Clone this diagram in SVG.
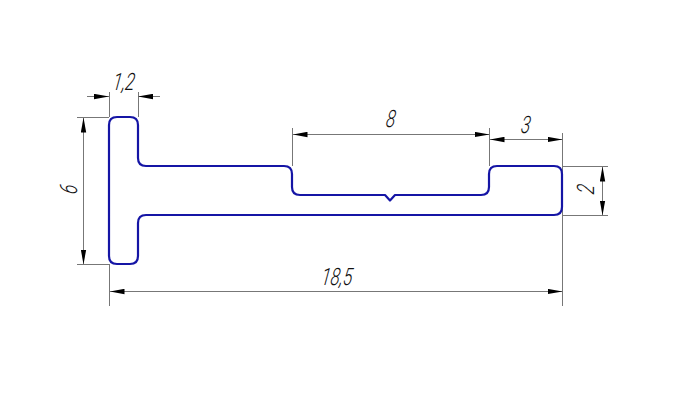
<svg xmlns="http://www.w3.org/2000/svg" width="681" height="403" viewBox="0 0 681 403">
<style>
.dim{fill:none;stroke:#777;stroke-width:1}
.ah{fill:#000;stroke:none}
.t{font-family:"Roboto","Liberation Sans",sans-serif;font-weight:300;font-style:italic;font-size:24px;fill:#111;text-anchor:middle}
</style>
<defs>
<marker id="arr" viewBox="0 0 15 6" refX="15" refY="3" markerWidth="15" markerHeight="6" markerUnits="userSpaceOnUse" orient="auto-start-reverse"><path class="ah" d="M0 0.3L15 3L0 5.700Z"/></marker>
</defs>
<rect width="681" height="403" fill="#fff"/>
<g id="connectors">
<path class="dim" d="M109.500 92V117M138.500 92V117M77 117.500H109M77 264.500H109M109.500 264V306M292.500 128V166M489.500 128V166M562.500 133V306M562 166.500H608M562 215.500H608"/>
<path class="dim" d="M87 96.500H109" marker-end="url(#arr)"/>
<path class="dim" d="M160 96.500H138" marker-end="url(#arr)"/>
<path class="dim" d="M83.500 117.500V264.500" marker-start="url(#arr)" marker-end="url(#arr)"/>
<path class="dim" d="M292.500 134.500H489.500" marker-start="url(#arr)" marker-end="url(#arr)"/>
<path class="dim" d="M489.500 139.500H562.500" marker-start="url(#arr)" marker-end="url(#arr)"/>
<path class="dim" d="M602.500 166.500V215.500" marker-start="url(#arr)" marker-end="url(#arr)"/>
<path class="dim" d="M109.500 291.500H562.500" marker-start="url(#arr)" marker-end="url(#arr)"/>
</g>
<g id="profile">
<path fill="none" stroke="#1515a5" stroke-width="2.200" stroke-linejoin="round" d="M109 125Q109 117 117 117H130Q138 117 138 125V158Q138 166 146 166H284Q292 166 292 174V187Q292 195 300 195H385L390 200.500L395 195H481Q489 195 489 187V174Q489 166 497 166H554Q562 166 562 174V207Q562 215 554 215H146Q138 215 138 223V256Q138 264 130 264H117Q109 264 109 256Z"/>
</g>
<g id="labels">
<text class="t" transform="translate(123 90) skewX(-8) scale(.72 1)">1,2</text>
<text class="t" transform="translate(390 127) skewX(-8) scale(.72 1)">8</text>
<text class="t" transform="translate(525 133) skewX(-8) scale(.72 1)">3</text>
<text class="t" transform="translate(336 285) skewX(-8) scale(.72 1)">18,5</text>
<text class="t" transform="translate(77 190) rotate(-90) skewX(-8) scale(.72 1)">6</text>
<text class="t" transform="translate(594 190) rotate(-90) skewX(-8) scale(.72 1)">2</text>
</g>
</svg>
